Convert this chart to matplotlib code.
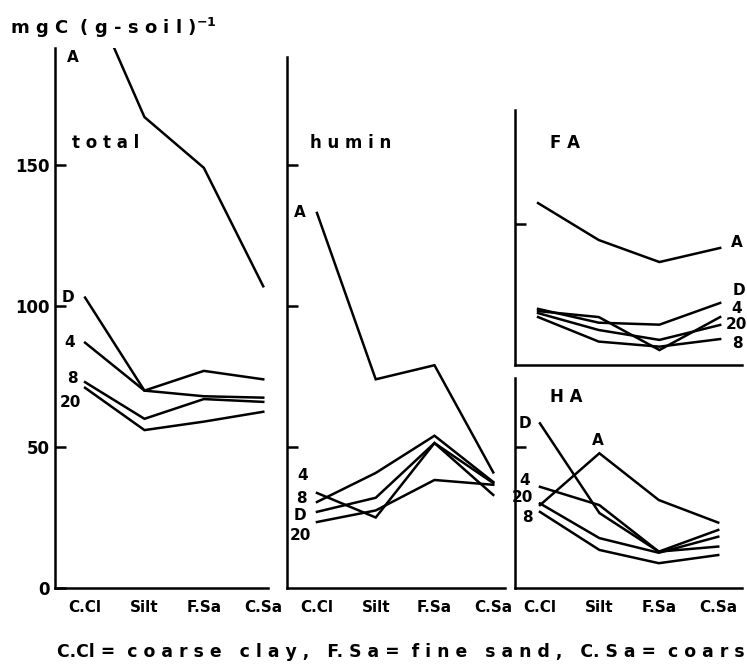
import matplotlib
matplotlib.use("Agg")
import matplotlib.pyplot as plt

plt.rcParams['font.family'] = ['DejaVu Sans']
plt.rcParams['font.weight'] = 'bold'

fractions = ["C.Cl", "Silt", "F.Sa", "C.Sa"]

# mgC (g-soil)^-1
total = {
    "A": [215, 167, 149, 107],
    "D": [103, 70, 77, 74],
    "4": [87, 70, 68, 67.5],
    "8": [73, 60, 67, 66],
    "20": [71, 56, 59, 62.5],
}
humin = {
    "A": [133, 74, 79, 41],
    "4": [33.7, 25, 51.4, 33],
    "8": [30.5, 40.8, 54, 37.6],
    "D": [27, 32, 51.4, 37.2],
    "20": [23.4, 27.5, 38.3, 36.6],
}
fa = {
    "A": [57.4, 44.3, 36.5, 41.5],
    "D": [19.9, 15, 14.3, 22],
    "4": [19.1, 17, 5.3, 17],
    "20": [18.4, 12.4, 8.9, 14.2],
    "8": [17.0, 8.3, 6.5, 9.2],
}
ha = {
    "A": [29.4, 47.8, 31.2, 23.2],
    "D": [58.4, 26.6, 12.9, 20.6],
    "4": [35.9, 29.4, 12.9, 14.7],
    "20": [30, 17.7, 12.5, 18.2],
    "8": [27, 13.5, 8.8, 11.7],
}

W, H = 747, 667
fig = plt.figure(figsize=(W / 100, H / 100), dpi=100)

LW = 1.8
FS = 11


def make_ax(left, top, right, bottom, xlim, ymax, yticks, xlabels=True, ylabels=False):
    ax = fig.add_axes([left / W, 1 - bottom / H, (right - left) / W, (bottom - top) / H])
    ax.set_xlim(*xlim)
    ax.set_ylim(0, ymax)
    for s in ["top", "right"]:
        ax.spines[s].set_visible(False)
    for s in ["left", "bottom"]:
        ax.spines[s].set_linewidth(LW)
    ax.set_yticks(yticks)
    ax.tick_params(axis="y", direction="in", length=8, width=LW, labelsize=FS + 1, pad=4)
    if not ylabels:
        ax.set_yticklabels([])
    ax.set_xticks(range(4))
    ax.tick_params(axis="x", length=0, labelsize=FS, pad=9)
    if xlabels:
        ax.set_xticklabels(fractions)
    else:
        ax.set_xticklabels([])
    return ax


def draw(ax, data, labels):
    for name, vals in data.items():
        ax.plot(range(4), vals, color="black", lw=LW, solid_joinstyle="miter")
    for name, idx, dx, dy in labels:
        ax.annotate(name, (idx, data[name][idx]), xytext=(dx, dy),
                    textcoords="offset pixels", ha="center", va="center",
                    fontsize=FS, fontweight="bold", annotation_clip=False)


ax1 = make_ax(55, 48, 268, 588, (-0.506, 3.08), 191.5, [0, 50, 100, 150], ylabels=True)
draw(ax1, total, [("D", 0, -17, 0), ("4", 0, -15, 0), ("8", 0, -13, 4), ("20", 0, -15, -15)])
ax1.text(0.085, 0.983, "A", transform=ax1.transAxes, ha="center", va="center", fontsize=FS)
ax1.text(0.24, 0.825, "t o t a l", transform=ax1.transAxes, ha="center", va="center", fontsize=FS + 1)

ax2 = make_ax(287, 57, 505, 588, (-0.51, 3.2), 188.3, [50, 100, 150])
draw(ax2, humin, [("A", 0, -17, 0), ("4", 0, -14, 17), ("8", 0, -16, 3),
                  ("D", 0, -17, -4), ("20", 0, -17, -13)])
ax2.text(0.29, 0.838, "h u m i n", transform=ax2.transAxes, ha="center", va="center", fontsize=FS + 1)

ax3 = make_ax(515, 110, 742, 365, (-0.38, 3.36), 90.4, [50], xlabels=False)
draw(ax3, fa, [("A", 3, 17, 5), ("D", 3, 19, 12), ("4", 3, 16, 9),
               ("20", 3, 16, 0), ("8", 3, 17, -4)])
ax3.text(0.22, 0.87, "F A", transform=ax3.transAxes, ha="center", va="center", fontsize=FS + 1)

ax4 = make_ax(515, 378, 742, 588, (-0.42, 3.4), 74.5, [50])
draw(ax4, ha, [("D", 0, -15, 0), ("A", 1, -2, 13), ("4", 0, -15, 6),
               ("20", 0, -18, 6), ("8", 0, -13, -6)])
ax4.text(0.225, 0.91, "H A", transform=ax4.transAxes, ha="center", va="center", fontsize=FS + 1)

fig.text(10 / W, 1 - 28 / H, r"m g C  ( g - s o i l )$^{-1}$", ha="left", va="center", fontsize=FS + 2)
fig.text(57 / W, 1 - 652 / H, "C.Cl =  c o a r s e   c l a y ,   F. S a =  f i n e   s a n d ,   C. S a =  c o a r s",
         ha="left", va="center", fontsize=FS + 1.4)

fig.savefig("out.png", dpi=100)
